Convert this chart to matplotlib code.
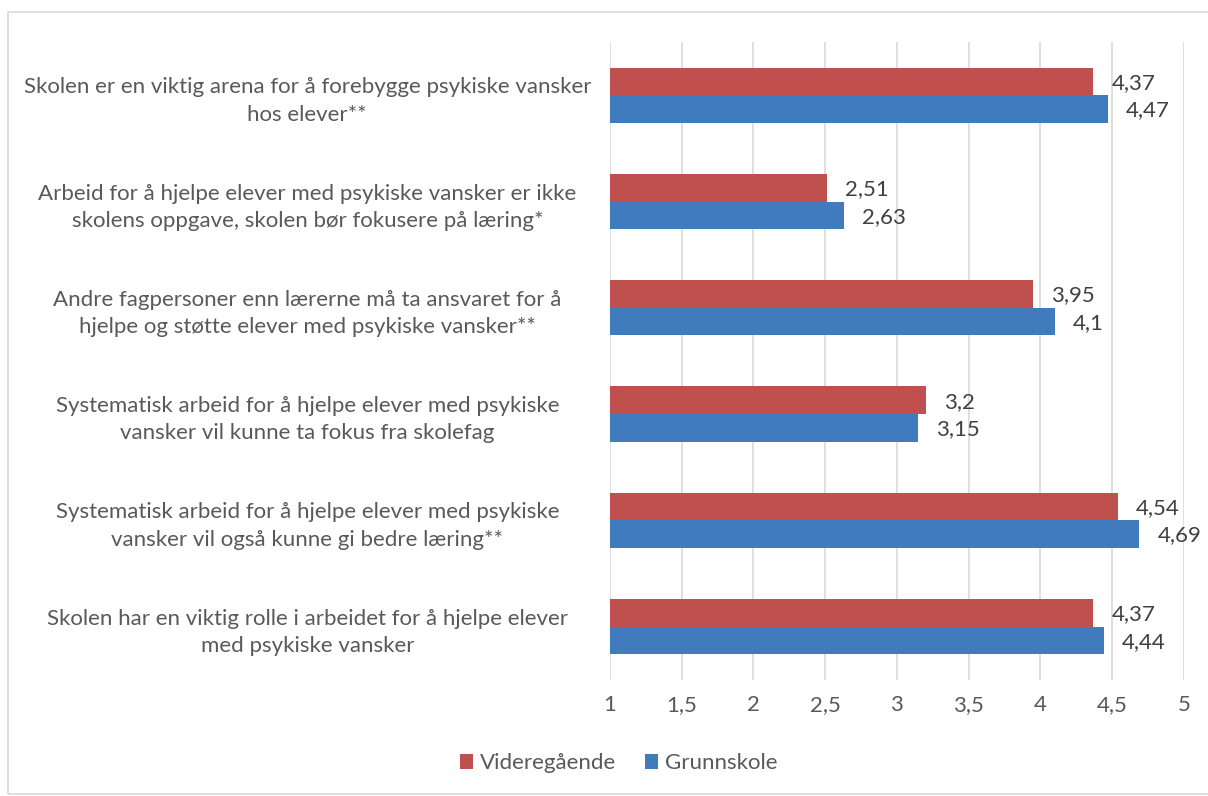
import matplotlib.pyplot as plt
import numpy as np
from matplotlib.patches import Rectangle

plt.rcParams['font.family'] = ['Lato', 'DejaVu Sans']

categories = [
    "Skolen er en viktig arena for å forebygge psykiske vansker\nhos elever**",
    "Arbeid for å hjelpe elever med psykiske vansker er ikke\nskolens oppgave, skolen bør fokusere på læring*",
    "Andre fagpersoner enn lærerne må ta ansvaret for å\nhjelpe og støtte elever med psykiske vansker**",
    "Systematisk arbeid for å hjelpe elever med psykiske\nvansker vil kunne ta fokus fra skolefag",
    "Systematisk arbeid for å hjelpe elever med psykiske\nvansker vil også kunne gi bedre læring**",
    "Skolen har en viktig rolle i arbeidet for å hjelpe elever\nmed psykiske vansker",
]
videregaende = [4.37, 2.51, 3.95, 3.2, 4.54, 4.37]
grunnskole = [4.47, 2.63, 4.1, 3.15, 4.69, 4.44]

red = '#C0504D'
blue = '#3F7BBD'
grey = '#595959'
fs = 16

fig = plt.figure(figsize=(12.08, 7.96), dpi=100)
ax = fig.add_axes([0.505, 0.146, 0.475, 0.801])

y = np.arange(len(categories))
h = 0.26
ax.barh(y - h / 2, np.array(videregaende) - 1, height=h, left=1, color=red, label='Videregående', zorder=3)
ax.barh(y + h / 2, np.array(grunnskole) - 1, height=h, left=1, color=blue, label='Grunnskole', zorder=3)

def fmt(v):
    return ('%g' % v).replace('.', ',')

for i in range(len(categories)):
    ax.annotate(fmt(videregaende[i]), (videregaende[i], y[i] - h / 2), xytext=(13, -1),
                textcoords='offset points', va='center', ha='left', fontsize=fs, color='#404040')
    ax.annotate(fmt(grunnskole[i]), (grunnskole[i], y[i] + h / 2), xytext=(13, -1),
                textcoords='offset points', va='center', ha='left', fontsize=fs, color='#404040')

ax.set_xlim(1, 5)
ax.set_ylim(len(categories) - 0.5, -0.5)
ticks = np.arange(1, 5.01, 0.5)
ax.set_xticks(ticks)
ax.set_xticklabels([fmt(t) for t in ticks], fontsize=fs, color=grey)
ax.set_yticks(y)
ax.set_yticklabels(categories, fontsize=fs, color=grey, ha='center', linespacing=1.45)
ax.tick_params(axis='y', length=0, pad=218)
ax.tick_params(axis='x', length=0, pad=11)
ax.grid(axis='x', color='#D9D9D9', linewidth=1.2, zorder=0)
for s in ax.spines.values():
    s.set_visible(False)

leg = fig.legend(loc='center', bbox_to_anchor=(0.512, 0.041), ncol=2, frameon=False,
                 fontsize=fs, handlelength=0.6, handleheight=0.6, handletextpad=0.3,
                 columnspacing=1.3)
for t in leg.get_texts():
    t.set_color(grey)

fig.patches.append(Rectangle((8 / 1208, 0.002), 1.2, 1 - 12 / 796 - 0.002, transform=fig.transFigure,
                             fill=False, edgecolor='#D9D9D9', linewidth=1.2))

fig.savefig('out.png', dpi=100)
